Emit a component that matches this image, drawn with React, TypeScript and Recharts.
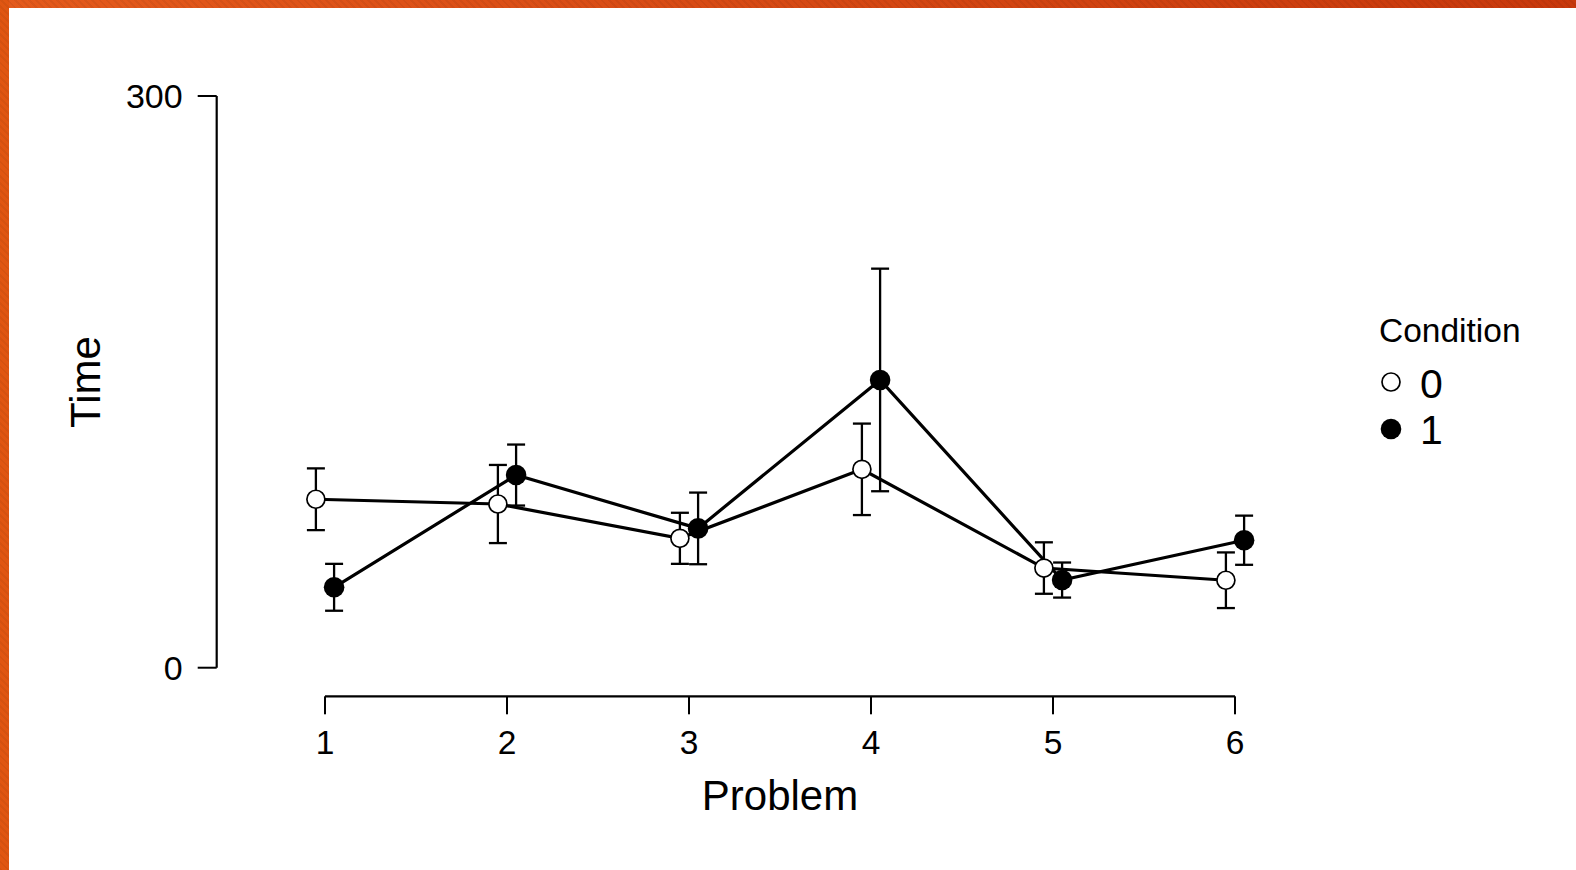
import React from 'react';
import { ScatterChart, Scatter, XAxis, YAxis, ErrorBar, ReferenceLine, Legend, Label, Customized } from 'recharts';

const FONT = '"Liberation Sans", Arial, sans-serif';

const problems = [1, 2, 3, 4, 5, 6];
const cond0Time = [88.4, 85.9, 67.9, 104.1, 52.3, 45.9];
const cond0Err = [16.2, 20.5, 13.4, 24.0, 13.5, 14.6];
const cond1Time = [42.2, 101.1, 73.1, 151.0, 46.0, 66.9];
const cond1Err = [12.3, 16.0, 18.8, 58.4, 9.2, 12.9];
const yTicks = [0, 300];
const conditions = ['0', '1'];

// points are dodged a little left / right of each problem
const DODGE = 0.05;
const X_MIN = 0.405;
const X_MAX = 6.595;
const Y_MIN = -15;

const cond0 = problems.map((p, i) => ({ x: p - DODGE, y: cond0Time[i], err: cond0Err[i] }));
const cond1 = problems.map((p, i) => ({ x: p + DODGE, y: cond1Time[i], err: cond1Err[i] }));

const OpenDot = (props: any) => (
  <circle cx={props.cx} cy={props.cy} r={9} fill="#fff" stroke="#000" strokeWidth={1.7} />
);
const FilledDot = (props: any) => <circle cx={props.cx} cy={props.cy} r={10.3} fill="#000" />;
const NoDot = () => <g />;

const ConditionLegend = () => (
  <svg width={200} height={160} style={{ display: 'block' }}>
    <text x={29} y={42} fontSize={33.5} fontFamily={FONT} fill="#000">Condition</text>
    {conditions.map((c, i) => (
      <g key={c}>
        {i === 0 ? (
          <circle cx={41} cy={82 + i * 47} r={9} fill="#fff" stroke="#000" strokeWidth={1.7} />
        ) : (
          <circle cx={41} cy={82 + i * 47} r={10.3} fill="#000" />
        )}
        <text x={70} y={98 + i * 46} fontSize={41} fontFamily={FONT} fill="#000">{c}</text>
      </g>
    ))}
  </svg>
);

const TimeLabel = () => (
  <text x={85} y={382} transform="rotate(-90, 85, 382)" textAnchor="middle" dominantBaseline="central"
    fontSize={42} fontFamily={FONT} fill="#000">Time</text>
);

export default function App() {
  return (
    <div style={{ position: 'absolute', left: 0, top: 0, width: 1576, height: 870, background: '#fff', overflow: 'hidden' }}>
      <div style={{
        position: 'absolute', left: 0, top: 0, width: 1576, height: 8,
        background: 'repeating-linear-gradient(45deg, rgba(0,0,0,0.05) 0 2px, transparent 2px 5px), linear-gradient(90deg, #e45a1c, #c8380c)',
      }} />
      <div style={{
        position: 'absolute', left: 0, top: 0, width: 9, height: 870,
        background: 'repeating-linear-gradient(45deg, rgba(0,0,0,0.05) 0 2px, transparent 2px 5px), #e05612',
      }} />
      <div style={{ position: 'absolute', left: 0, top: 0 }}>
        <ScatterChart width={1576} height={870} margin={{ top: 96, right: 232.7, bottom: 53.7, left: 0 }}>
          <XAxis type="number" dataKey="x" domain={[X_MIN, X_MAX]} allowDataOverflow ticks={problems} interval={0}
            height={120} axisLine={false} tickSize={18} tickMargin={16}
            tickLine={{ stroke: '#000', strokeWidth: 2 }}
            tick={{ fill: '#000', fontSize: 33.5, fontFamily: FONT }}>
            <Label value="Problem" position="insideBottom" offset={6} fill="#000" fontSize={42} fontFamily={FONT} />
          </XAxis>
          <YAxis type="number" dataKey="y" domain={[Y_MIN, 300]} allowDataOverflow ticks={yTicks} interval={0}
            width={216.7} axisLine={false} tickSize={19} tickMargin={15}
            tickLine={{ stroke: '#000', strokeWidth: 2 }}
            tick={{ fill: '#000', fontSize: 34, fontFamily: FONT }} />
          <ReferenceLine segment={[{ x: 1, y: Y_MIN }, { x: 6, y: Y_MIN }]} stroke="#000" strokeWidth={2.2} ifOverflow="visible" />
          <ReferenceLine segment={[{ x: X_MIN, y: 0 }, { x: X_MIN, y: 300 }]} stroke="#000" strokeWidth={2.2} ifOverflow="visible" />
          <Scatter data={cond0} line={{ stroke: '#000', strokeWidth: 3.2 }} shape={NoDot} legendType="none" isAnimationActive={false}>
            <ErrorBar dataKey="err" direction="y" width={9} stroke="#000" strokeWidth={2.3} />
          </Scatter>
          <Scatter data={cond1} line={{ stroke: '#000', strokeWidth: 3.2 }} shape={NoDot} legendType="none" isAnimationActive={false}>
            <ErrorBar dataKey="err" direction="y" width={9} stroke="#000" strokeWidth={2.3} />
          </Scatter>
          <Scatter name="0" data={cond0} shape={OpenDot} isAnimationActive={false} />
          <Scatter name="1" data={cond1} shape={FilledDot} isAnimationActive={false} />
          <Legend layout="vertical" align="center" verticalAlign="middle" content={ConditionLegend}
            wrapperStyle={{ left: 1350, top: 300, width: 200, height: 160 }} />
          <Customized component={TimeLabel} />
        </ScatterChart>
      </div>
    </div>
  );
}
